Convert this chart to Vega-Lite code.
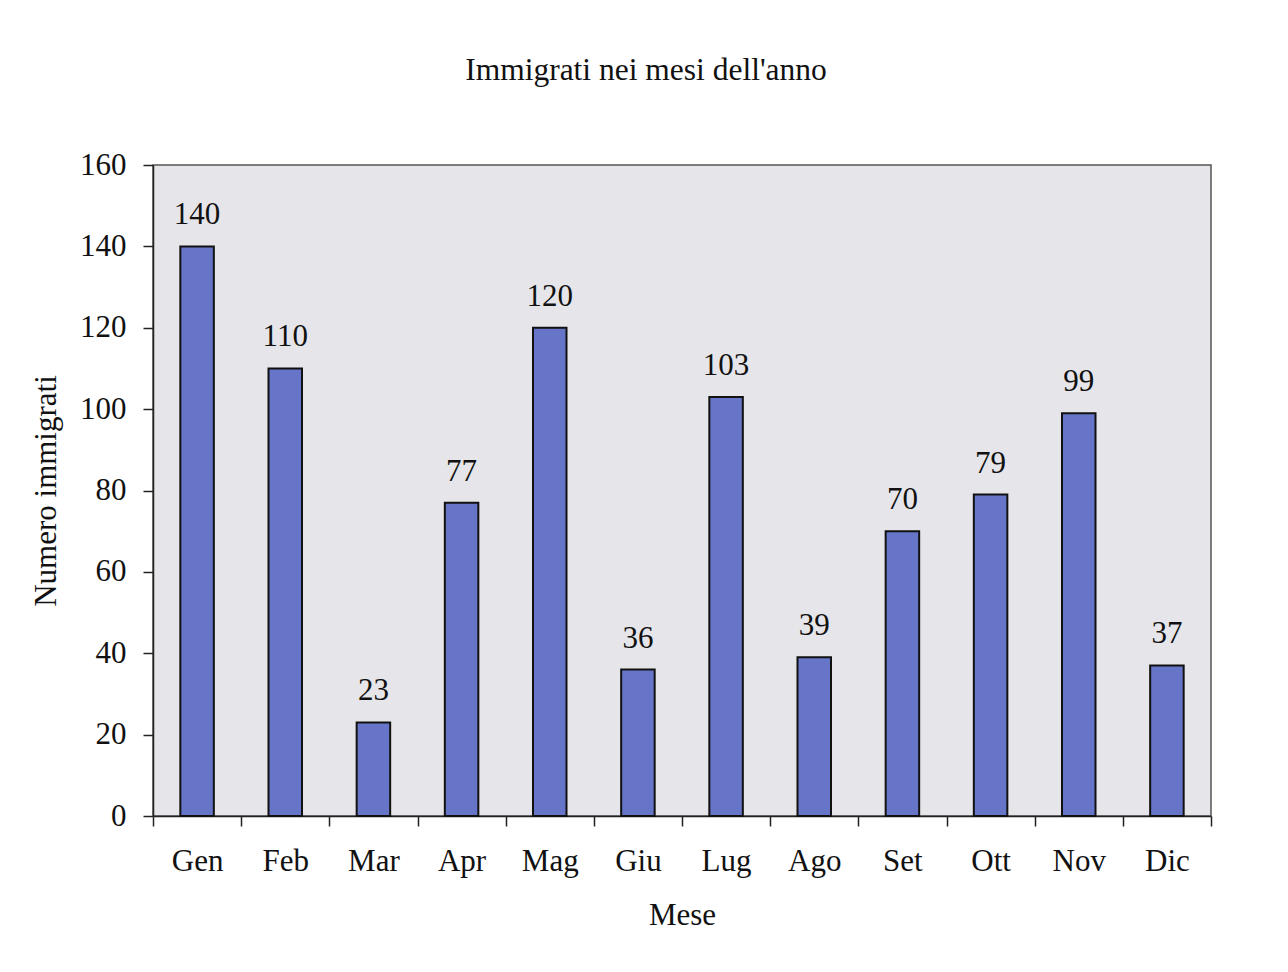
{
  "$schema": "https://vega.github.io/schema/vega-lite/v6.json",
  "autosize": "none",
  "width": 1058,
  "height": 651,
  "padding": {"left": 153, "top": 165, "right": 77, "bottom": 156},
  "background": "white",
  "title": {
    "text": "Immigrati nei mesi dell'anno",
    "font": "Liberation Serif",
    "fontSize": 31.5,
    "fontWeight": "normal",
    "color": "#111111",
    "anchor": "middle",
    "dx": -36,
    "offset": 63
  },
  "config": {
    "view": {"fill": "#e6e6ea", "stroke": "#555555", "strokeWidth": 1.5},
    "axis": {
      "labelFont": "Liberation Serif",
      "titleFont": "Liberation Serif",
      "labelFontSize": 31,
      "titleFontSize": 31,
      "labelColor": "#111111",
      "titleColor": "#111111",
      "titleFontWeight": "normal",
      "domainColor": "#222222",
      "tickColor": "#222222",
      "domainWidth": 1.5,
      "tickWidth": 1.5,
      "tickSize": 10,
      "grid": false
    }
  },
  "data": {
    "values": [
      {"mese": "Gen", "immigrati": 140},
      {"mese": "Feb", "immigrati": 110},
      {"mese": "Mar", "immigrati": 23},
      {"mese": "Apr", "immigrati": 77},
      {"mese": "Mag", "immigrati": 120},
      {"mese": "Giu", "immigrati": 36},
      {"mese": "Lug", "immigrati": 103},
      {"mese": "Ago", "immigrati": 39},
      {"mese": "Set", "immigrati": 70},
      {"mese": "Ott", "immigrati": 79},
      {"mese": "Nov", "immigrati": 99},
      {"mese": "Dic", "immigrati": 37}
    ]
  },
  "encoding": {
    "x": {
      "field": "mese",
      "type": "nominal",
      "sort": null,
      "scale": {"paddingInner": 0, "paddingOuter": 0},
      "axis": {
        "title": "Mese",
        "labelAngle": 0,
        "labelPadding": 20,
        "titlePadding": 24,
        "tickBand": "extent"
      }
    },
    "y": {
      "field": "immigrati",
      "type": "quantitative",
      "scale": {"domain": [0, 160], "nice": false},
      "axis": {
        "title": "Numero  immigrati",
        "values": [0, 20, 40, 60, 80, 100, 120, 140, 160],
        "labelPadding": 17,
        "titlePadding": 17
      }
    }
  },
  "layer": [
    {
      "mark": {"type": "bar", "width": {"band": 0.38}, "color": "#6675c7", "stroke": "#111111", "strokeWidth": 2}
    },
    {
      "mark": {
        "type": "text",
        "font": "Liberation Serif",
        "fontSize": 31,
        "color": "#111111",
        "baseline": "alphabetic",
        "dy": -22
      },
      "encoding": {"text": {"field": "immigrati", "type": "quantitative"}}
    }
  ]
}
